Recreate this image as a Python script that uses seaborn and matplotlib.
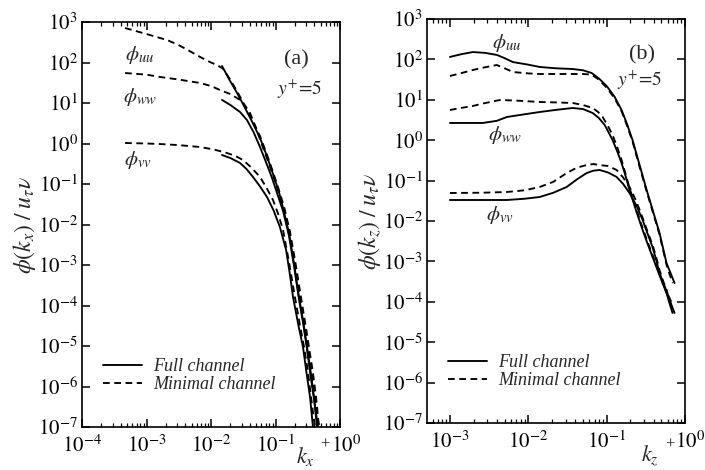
import math
import matplotlib
matplotlib.use('Agg')
import matplotlib.pyplot as plt
import seaborn as sns
from matplotlib.ticker import FixedLocator, FuncFormatter, NullLocator
from matplotlib.lines import Line2D
from matplotlib.transforms import ScaledTranslation

# ---------------- Panel (a): spectra vs k_x+ ----------------
a_uu_full_k = [0.0148, 0.0200, 0.0251, 0.0313, 0.0427, 0.0575, 0.0724, 0.0914, 0.112, 0.131,
               0.162, 0.195, 0.231, 0.269, 0.308, 0.355, 0.395, 0.440]
a_uu_full_p = [82, 33.9, 18.2, 9.44, 3.63, 1.37, 0.525, 0.177, 0.0676, 0.0255,
               6.17e-3, 1.0e-3, 1.62e-4, 4.0e-5, 9.4e-6, 2.0e-6, 5.5e-7, 1e-7]
a_uu_min_k = [4.65e-4, 7.08e-4, 1.13e-3, 1.58e-3, 2.08e-3, 3.16e-3, 5.26e-3, 7.08e-3, 9.6e-3,
              0.0126, 0.0153, 0.0200, 0.0251, 0.0313, 0.0427, 0.0575, 0.0724, 0.0914, 0.112,
              0.136, 0.168, 0.204, 0.248, 0.288, 0.330, 0.380, 0.425, 0.472]
a_uu_min_p = [711, 589, 477, 407, 360, 269, 172, 132, 103, 85.1, 70.8, 37.2, 20.0, 10.6,
              3.98, 1.53, 0.575, 0.198, 0.0741, 0.0270, 6.53e-3, 1.12e-3, 1.62e-4, 3.8e-5,
              9.4e-6, 2.24e-6, 5.5e-7, 1e-7]
a_ww_full_k = [0.0148, 0.0200, 0.0282, 0.0361, 0.0457, 0.0575, 0.0708, 0.0883, 0.107, 0.131,
               0.162, 0.195, 0.231, 0.269, 0.308, 0.347, 0.395, 0.456]
a_ww_full_p = [11.9, 8.91, 6.0, 3.80, 1.91, 0.82, 0.355, 0.141, 0.0562, 0.0215, 5.2e-3,
               8.9e-4, 1.45e-4, 3.55e-5, 8.4e-6, 2.0e-6, 4.9e-7, 1e-7]
a_ww_min_k = [4.65e-4, 1.0e-3, 1.62e-3, 3.16e-3, 6.75e-3, 0.0100, 0.0138, 0.0200, 0.0282,
              0.0339, 0.0403, 0.0501, 0.0618, 0.0759, 0.0914, 0.112, 0.136, 0.168, 0.200,
              0.240, 0.275, 0.319, 0.363, 0.409, 0.472]
a_ww_min_p = [55, 50.1, 43.9, 38.0, 31.2, 26.3, 20.9, 16.6, 11.9, 8.51, 5.66, 2.40, 0.918,
              0.380, 0.167, 0.0617, 0.0228, 5.51e-3, 1.0e-3, 1.62e-4, 3.98e-5, 9.4e-6,
              2.24e-6, 5.5e-7, 1e-7]
a_vv_full_k = [0.0148, 0.0200, 0.0282, 0.0355, 0.0448, 0.0575, 0.0738, 0.0933, 0.117, 0.146,
               0.166, 0.187, 0.224, 0.267, 0.302, 0.343, 0.381]
a_vv_full_p = [0.52, 0.437, 0.330, 0.234, 0.149, 0.0871, 0.0478, 0.0224, 8.67e-3, 2.34e-3,
               6.3e-4, 1.62e-4, 3.55e-5, 9.4e-6, 2.24e-6, 5.5e-7, 1e-7]
a_vv_min_k = [4.65e-4, 1.0e-3, 1.62e-3, 3.16e-3, 6.75e-3, 0.0112, 0.0177, 0.0240, 0.0313,
              0.0427, 0.0575, 0.0724, 0.0914, 0.110, 0.131, 0.162, 0.200, 0.234, 0.277,
              0.316, 0.355, 0.409]
a_vv_min_p = [1.03, 1.0, 0.97, 0.912, 0.82, 0.708, 0.582, 0.490, 0.392, 0.251, 0.149, 0.0813,
              0.0403, 0.0182, 7.31e-3, 1.17e-3, 1.62e-4, 3.98e-5, 9.4e-6, 2.5e-6, 5.5e-7, 1e-7]

# ---------------- Panel (b): spectra vs k_z+ ----------------
b_uu_full_k = [1.0e-3, 1.41e-3, 1.96e-3, 2.82e-3, 3.97e-3, 5.01e-3, 6.35e-3, 0.0100, 0.0140,
               0.0224, 0.0369, 0.0501, 0.0644, 0.0794, 0.100, 0.126, 0.155, 0.182, 0.214,
               0.263, 0.324, 0.398, 0.473, 0.581, 0.661, 0.735]
b_uu_full_p = [115, 135, 152, 145, 129, 107, 86, 74.1, 64.9, 60.3, 57.8, 53.7, 46.1, 33.9,
               22.0, 12.0, 5.59, 2.51, 1.01, 0.245, 0.0585, 0.0155, 5.05e-3, 9.1e-4, 4.9e-4,
               2.92e-4]
b_uu_min_k = [1.0e-3, 1.41e-3, 1.96e-3, 2.82e-3, 3.97e-3, 5.01e-3, 6.35e-3, 0.0100, 0.0140,
              0.0224, 0.0369, 0.0501, 0.0644, 0.0794, 0.100, 0.126, 0.155, 0.182, 0.214,
              0.263, 0.324, 0.398, 0.473, 0.581, 0.640, 0.700]
b_uu_min_p = [38.8, 46.0, 54.7, 64.0, 72.6, 60.0, 48.8, 45.0, 43.5, 43.5, 43.5, 43.5, 42.0,
              31.6, 20.0, 11.0, 5.2, 2.3, 0.93, 0.22, 0.054, 0.0142, 4.6e-3, 8.3e-4, 4.6e-4,
              2.9e-4]
b_ww_full_k = [1.0e-3, 1.58e-3, 2.63e-3, 3.98e-3, 5.32e-3, 8.91e-3, 0.0140, 0.0224, 0.0369,
               0.0501, 0.0664, 0.0794, 0.0944, 0.107, 0.119, 0.138, 0.155, 0.174, 0.196,
               0.240, 0.288, 0.331, 0.385, 0.447, 0.516, 0.635, 0.735]
b_ww_full_p = [2.67, 2.67, 2.67, 3.02, 3.75, 4.37, 4.99, 5.62, 6.27, 5.89, 4.71, 3.55, 2.38,
               1.51, 1.01, 0.501, 0.273, 0.132, 0.0585, 0.0170, 5.98e-3, 2.82e-3, 1.29e-3,
               6.03e-4, 2.92e-4, 1.11e-4, 5.3e-5]
b_ww_min_k = [1.0e-3, 1.41e-3, 1.96e-3, 2.82e-3, 4.34e-3, 7.08e-3, 0.0140, 0.0224, 0.0369,
              0.0501, 0.0664, 0.0776, 0.0889, 0.102, 0.119, 0.138, 0.155, 0.174, 0.196,
              0.240, 0.288, 0.331, 0.385, 0.447, 0.516, 0.635, 0.693]
b_ww_min_p = [5.59, 6.31, 7.03, 8.32, 9.89, 9.55, 8.83, 8.61, 8.34, 7.41, 6.27, 5.01, 3.75,
              2.40, 1.35, 0.631, 0.324, 0.148, 0.0656, 0.0191, 6.71e-3, 3.16e-3, 1.44e-3,
              6.76e-4, 3.27e-4, 1.24e-4, 8.3e-5]
b_vv_k = [1.0e-3, 2.51e-3, 5.32e-3, 8.91e-3, 0.0140, 0.0209, 0.0309, 0.0417, 0.0556, 0.0676,
          0.0815, 0.105, 0.134, 0.162, 0.196, 0.240, 0.288, 0.331, 0.385, 0.427, 0.473,
          0.525, 0.581, 0.631, 0.693]
b_vv_full_p = [0.0331, 0.0331, 0.0331, 0.0355, 0.0393, 0.0501, 0.0695, 0.107, 0.154, 0.176,
               0.183, 0.158, 0.123, 0.0832, 0.0493, 0.0240, 0.0106, 5.01e-3, 2.27e-3,
               1.12e-3, 5.2e-4, 2.82e-4, 1.65e-4, 9.5e-5, 5.3e-5]
b_vv_min_p = [0.0493, 0.0501, 0.0522, 0.0575, 0.0695, 0.0933, 0.154, 0.209, 0.243, 0.257,
              0.243, 0.229, 0.183, 0.120, 0.0695, 0.0302, 0.0119, 5.62e-3, 2.55e-3, 1.32e-3,
              6.1e-4, 3.31e-4, 1.96e-4, 1.12e-4, 6.3e-5]

# axis ticks (decades)
a_xticks = [1e-4, 1e-3, 1e-2, 1e-1, 1e0]
b_xticks = [1e-3, 1e-2, 1e-1, 1e0]
yticks = [1e-7, 1e-6, 1e-5, 1e-4, 1e-3, 1e-2, 1e-1, 1e0, 1e1, 1e2, 1e3]

legend_labels = ["Full channel", "Minimal channel"]

sns.set_theme(style="ticks")
plt.rcParams['font.family'] = ['Liberation Serif', 'DejaVu Serif']
plt.rcParams['mathtext.fontset'] = 'stix'
plt.rcParams['axes.linewidth'] = 1.2

fig = plt.figure(figsize=(7.05, 4.7), dpi=100)
ax1 = fig.add_axes([82/705, 1-427/470, 258/705, 405/470])
ax2 = fig.add_axes([427/705, 1-423/470, 258/705, 404/470])

solid = dict(color='black', lw=1.35, linestyle='-')
dash = dict(color='black', lw=1.35, linestyle=(0, (3.6, 2.4)))

def draw(ax, k, p, style):
    sns.lineplot(x=k, y=p, ax=ax, sort=False, estimator=None, **style)

for k, p, st in [(a_uu_full_k, a_uu_full_p, solid), (a_uu_min_k, a_uu_min_p, dash),
                 (a_ww_full_k, a_ww_full_p, solid), (a_ww_min_k, a_ww_min_p, dash),
                 (a_vv_full_k, a_vv_full_p, solid), (a_vv_min_k, a_vv_min_p, dash)]:
    draw(ax1, k, p, st)
for k, p, st in [(b_uu_full_k, b_uu_full_p, solid), (b_uu_min_k, b_uu_min_p, dash),
                 (b_ww_full_k, b_ww_full_p, solid), (b_ww_min_k, b_ww_min_p, dash),
                 (b_vv_k, b_vv_full_p, solid), (b_vv_k, b_vv_min_p, dash)]:
    draw(ax2, k, p, st)

fmt = FuncFormatter(lambda v, pos: r'$10^{%d}$' % round(math.log10(v)))

def minor_ticks(lo, hi):
    out = []
    for e in range(-5, 1):
        for m in range(2, 10):
            v = m * 10.0 ** e
            if lo < v < hi:
                out.append(v)
    return out

for ax, xl, xt in [(ax1, (1e-4, 1.0), a_xticks), (ax2, (5.1e-4, 1.0), b_xticks)]:
    ax.set_xscale('log')
    ax.set_yscale('log')
    ax.set_xlim(*xl)
    ax.set_ylim(1e-7, 1e3)
    ax.xaxis.set_major_locator(FixedLocator(xt))
    ax.xaxis.set_minor_locator(FixedLocator(minor_ticks(*xl)))
    ax.yaxis.set_major_locator(FixedLocator(yticks))
    ax.yaxis.set_minor_locator(NullLocator())
    ax.xaxis.set_major_formatter(fmt)
    ax.yaxis.set_major_formatter(fmt)
    ax.tick_params(which='both', direction='in', top=True, right=True, colors='black',
                   labelsize=15)
    ax.tick_params(which='major', length=6, width=1.1)
    ax.tick_params(which='minor', length=3, width=0.9)
    ax.tick_params(axis='y', pad=3)
    ax.tick_params(axis='x', pad=6)
    for s in ax.spines.values():
        s.set_color('black')
    ax.set_xlabel('')
    ax.set_facecolor('white')

ax1.set_ylabel(r'$\phi(k_x)\;/\;u_\tau \nu$', fontsize=17, labelpad=0)
ax2.set_ylabel(r'$\phi(k_z)\;/\;u_\tau \nu$', fontsize=17, labelpad=0)

lab = dict(fontsize=15, ha='center', va='center')
ax1.text(0.225, 0.919, r'$\phi_{uu}$', transform=ax1.transAxes, **lab)
ax1.text(0.225, 0.815, r'$\phi_{ww}$', transform=ax1.transAxes, **lab)
ax1.text(0.215, 0.660, r'$\phi_{vv}$', transform=ax1.transAxes, **lab)
ax1.text(0.829, 0.906, '(a)', transform=ax1.transAxes, fontsize=16, ha='center', va='center')
ax1.text(0.845, 0.835, r'$y^{+}\!=\!5$', transform=ax1.transAxes, fontsize=14, ha='center', va='center')

ax2.text(0.310, 0.941, r'$\phi_{uu}$', transform=ax2.transAxes, **lab)
ax2.text(0.302, 0.713, r'$\phi_{ww}$', transform=ax2.transAxes, **lab)
ax2.text(0.283, 0.515, r'$\phi_{vv}$', transform=ax2.transAxes, **lab)
ax2.text(0.833, 0.911, '(b)', transform=ax2.transAxes, fontsize=16, ha='center', va='center')
ax2.text(0.825, 0.849, r'$y^{+}\!=\!5$', transform=ax2.transAxes, fontsize=14, ha='center', va='center')

fig.text(305/705, 1-456/470, r'$k_x$', fontsize=16, ha='center', va='center')
fig.text(325/705, 1-445/470, '+', fontsize=12, ha='center', va='center')
fig.text(650/705, 1-456/470, r'$k_z$', fontsize=16, ha='center', va='center')
fig.text(670/705, 1-445/470, '+', fontsize=12, ha='center', va='center')

handles = [Line2D([], [], **solid), Line2D([], [], **dash)]
for ax in (ax1, ax2):
    ax.legend(handles, legend_labels, loc='upper left', bbox_to_anchor=(0.055, 0.188),
              frameon=False, handlelength=2.15, handletextpad=0.6, labelspacing=0.05,
              borderaxespad=0, prop=dict(family='Liberation Serif', style='italic', size=13))

fig.canvas.draw()
for ax, dx in [(ax1, 6), (ax2, 5)]:
    for t in ax.xaxis.get_majorticklabels():
        if t.get_text() == r'$10^{0}$':
            t.set_transform(t.get_transform() + ScaledTranslation(dx/100, 0, fig.dpi_scale_trans))

fig.savefig('out.png', dpi=100, facecolor='white')
